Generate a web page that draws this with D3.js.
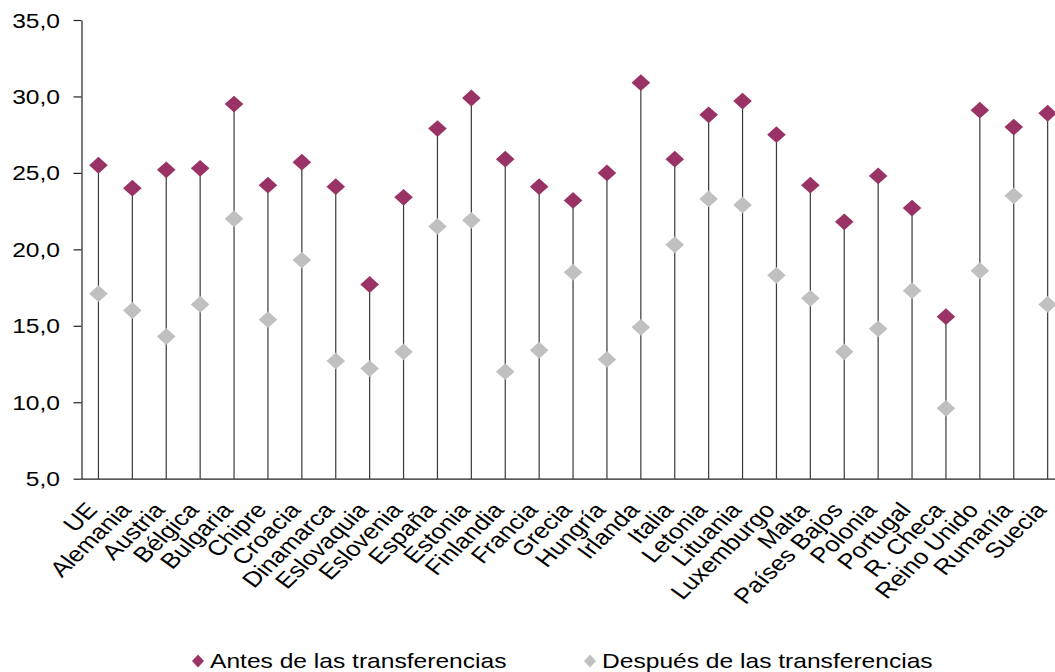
<!DOCTYPE html>
<html>
<head>
<meta charset="utf-8">
<script src="https://cdn.jsdelivr.net/npm/d3@7"></script>
<style>
  html, body { margin: 0; padding: 0; background: #fff; }
  svg { display: block; font-family: "Liberation Sans", Arial, sans-serif; }
</style>
</head>
<body>
<svg id="chart" width="1055" height="672"></svg>
<script>
const categories = ["UE","Alemania","Austria","Bélgica","Bulgaria","Chipre","Croacia","Dinamarca","Eslovaquia","Eslovenia","España","Estonia","Finlandia","Francia","Grecia","Hungría","Irlanda","Italia","Letonia","Lituania","Luxemburgo","Malta","Países Bajos","Polonia","Portugal","R. Checa","Reino Unido","Rumanía","Suecia"];
const antes = [25.5,24.0,25.2,25.3,29.5,24.2,25.7,24.1,17.7,23.4,27.9,29.9,25.9,24.1,23.2,25.0,30.9,25.9,28.8,29.7,27.5,24.2,21.8,24.8,22.7,15.6,29.1,28.0,28.9];
const despues = [17.1,16.0,14.3,16.4,22.0,15.4,19.3,12.7,12.2,13.3,21.5,21.9,12.0,13.4,18.5,12.8,14.9,20.3,23.3,22.9,18.3,16.8,13.3,14.8,17.3,9.6,18.6,23.5,16.4];
const yTicks = [5,10,15,20,25,30,35];
const seriesNames = ["Antes de las transferencias","Después de las transferencias"];
const colors = ["#993366","#C0C0C0"];

const svg = d3.select("#chart");
const mLeft = 81.5, mBottom = 478.7, mTop = 20;
const band = 33.9;
const x = d3.scaleBand().domain(categories).range([mLeft, mLeft + categories.length * band]).padding(0);
const y = d3.scaleLinear().domain([5, 35]).range([mBottom, mTop]);
const cx = d => x(d) + x.bandwidth() / 2;

// stems
svg.append("g").selectAll("line").data(categories).join("line")
  .attr("x1", d => cx(d)).attr("x2", d => cx(d))
  .attr("y1", (d, i) => y(antes[i])).attr("y2", y(5))
  .attr("stroke", "#3a3a3a").attr("stroke-width", 1.2);

// y axis
const yAxis = svg.append("g").attr("transform", `translate(${mLeft},0)`)
  .call(d3.axisLeft(y).tickValues(yTicks).tickSize(8).tickSizeOuter(0)
        .tickFormat(d => d3.format(".1f")(d).replace(".", ",")));
yAxis.select(".domain").attr("stroke", "#222").attr("stroke-width", 1.2);
yAxis.selectAll(".tick line").attr("stroke", "#222").attr("stroke-width", 1.2);
yAxis.selectAll(".tick text")
  .attr("x", null).attr("dy", null)
  .attr("transform", "translate(-21.5,7) scale(1.2,1)")
  .attr("fill", "#000").style("font-size", "20.5px");

// x axis
const xAxis = svg.append("g").attr("transform", `translate(0,${mBottom})`)
  .call(d3.axisBottom(x).tickSize(0).tickSizeOuter(0));
xAxis.select(".domain").attr("stroke", "#222").attr("stroke-width", 1.2)
  .attr("d", `M${mLeft},0.5H1055`);
xAxis.selectAll(".tick text")
  .attr("y", null).attr("dy", null).attr("text-anchor", "end")
  .attr("transform", "translate(0,32) scale(1.2,1) rotate(-49)")
  .attr("fill", "#000").style("font-size", "21.5px");

// markers
const diamond = (hw, hh) => `M0,${-hh}L${hw},0L0,${hh}L${-hw},0Z`;
[despues, antes].forEach((vals, k) => {
  const col = k === 0 ? colors[1] : colors[0];
  svg.append("g").selectAll("path").data(categories).join("path")
    .attr("d", diamond(9.3, 8.4))
    .attr("transform", (d, i) => `translate(${cx(d)},${y(vals[i])})`)
    .attr("fill", col);
});

// legend
const legX = [198, 590];
const leg = svg.append("g");
seriesNames.forEach((name, i) => {
  leg.append("path").attr("d", diamond(6, 6.5))
    .attr("transform", `translate(${legX[i]},661)`).attr("fill", colors[i]);
  leg.append("text").text(name)
    .attr("transform", `translate(${legX[i] + 12},668) scale(1.2,1)`)
    .attr("fill", "#000").style("font-size", "20.5px");
});
</script>
</body>
</html>
